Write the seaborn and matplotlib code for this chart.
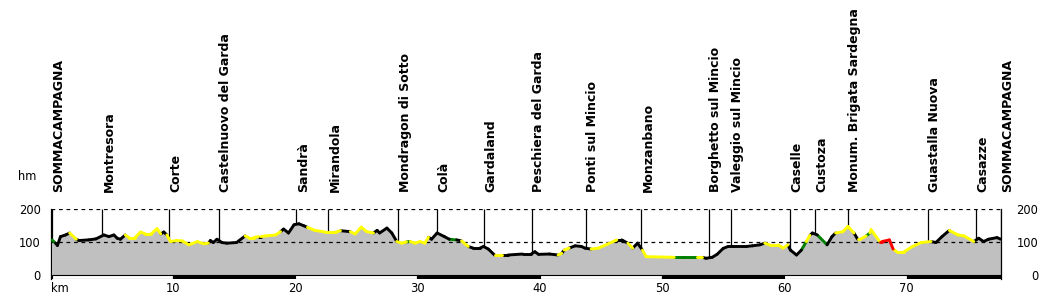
import numpy as np
import pandas as pd
import matplotlib
matplotlib.use("Agg")
import matplotlib.pyplot as plt
import seaborn as sns

# ---------------- data ----------------
km = [0.1, 0.4, 0.55, 0.8, 1.22, 1.55, 2.1, 2.3, 3.1, 3.7, 4.35, 4.76, 5.17, 5.44, 5.7,
      6.1, 6.4, 6.9, 7.35, 7.75, 8.2, 8.7, 9.0, 9.25, 9.5, 9.8, 10.3, 10.75, 11.3, 12.0,
      12.5, 12.9, 13.06, 13.3, 13.6, 14.0, 14.4, 15.2, 15.9, 16.2, 16.6, 17.0, 17.2, 17.55,
      18.4, 18.8, 19.05, 19.45, 19.9, 20.3, 20.7, 21.0, 21.6, 22.45, 23.3, 23.7, 24.5, 24.9,
      25.4, 25.85, 26.4, 26.7, 26.9, 27.5, 27.9, 28.3, 28.7, 29.1, 29.4, 29.8, 30.2, 30.6,
      30.9, 31.15, 31.6, 32.2, 32.6, 33.2, 33.6, 34.15, 34.55, 35.1, 35.4, 35.8, 36.3, 36.9,
      37.4, 38.6, 39.3, 39.6, 39.9, 40.8, 41.5, 41.8, 42.0, 42.4, 42.9, 43.4, 43.7, 44.2,
      44.8, 45.6, 46.3, 46.7, 47.2, 47.6, 48.0, 48.4, 48.7, 51.0, 51.8, 52.9, 53.3, 53.6,
      54.1, 54.5, 55.0, 55.4, 55.8, 56.9, 57.4, 58.0, 58.4, 58.8, 59.5, 59.9, 60.3, 60.5,
      61.0, 61.4, 61.8, 62.1, 62.3, 62.7, 63.5, 63.9, 64.2, 64.8, 65.2, 65.7, 66.0, 66.2,
      66.7, 67.0, 67.1, 67.8, 68.0, 68.6, 68.9, 69.2, 69.8, 70.5, 71.2, 72.0, 72.4, 72.9,
      73.5, 74.2, 74.7, 75.5, 75.9, 76.3, 76.7, 77.4, 77.7]
elev = [106, 96, 89, 116, 121, 127, 108, 104, 106, 109, 121, 116, 121, 111, 108,
        121, 113, 113, 130, 124, 124, 140, 124, 130, 121, 101, 104, 103, 91, 101,
        94, 96, 104, 98, 108, 98, 96, 98, 118, 113, 113, 116, 116, 118,
        121, 131, 139, 127, 152, 155, 149, 144, 135, 130, 130, 134, 131, 124,
        145, 131, 127, 135, 127, 142, 127, 101, 96, 100, 101, 96, 101, 96,
        114, 108, 127, 116, 108, 106, 103, 86, 81, 81, 86, 78, 60, 60,
        60, 63, 63, 70, 62, 63, 60, 65, 75, 81, 88, 86, 81, 78,
        81, 94, 106, 106, 96, 81, 96, 75, 55, 53, 53, 53, 53, 50,
        53, 62, 80, 86, 86, 86, 88, 91, 96, 91, 91, 81, 91, 75,
        60, 75, 101, 120, 127, 121, 91, 116, 127, 131, 147, 127, 108, 108,
        118, 127, 137, 101, 101, 106, 78, 70, 70, 86, 98, 101, 98, 116,
        135, 121, 118, 101, 111, 101, 108, 113, 108]
# gradient class of the segment starting at each point
slope = ['g', 'k', 'k', 'k', 'k', 'y', 'k', 'k', 'k', 'k', 'k', 'k', 'k', 'k', 'k',
         'y', 'y', 'y', 'y', 'y', 'y', 'y', 'k', 'k', 'y', 'y', 'y', 'y', 'y', 'y',
         'y', 'k', 'k', 'k', 'k', 'k', 'k', 'k', 'y', 'y', 'y', 'k', 'y', 'y',
         'y', 'k', 'k', 'k', 'k', 'k', 'k', 'y', 'y', 'y', 'y', 'k', 'y', 'y',
         'y', 'y', 'k', 'k', 'k', 'k', 'k', 'y', 'y', 'g', 'y', 'y', 'y', 'y',
         'k', 'k', 'k', 'k', 'g', 'k', 'y', 'k', 'k', 'k', 'k', 'k', 'y', 'k',
         'k', 'k', 'k', 'k', 'k', 'k', 'y', 'k', 'y', 'k', 'k', 'k', 'k', 'y',
         'y', 'y', 'k', 'k', 'y', 'k', 'k', 'y', 'y', 'g', 'g', 'y', 'k', 'k',
         'k', 'k', 'k', 'k', 'k', 'k', 'k', 'k', 'y', 'y', 'y', 'y', 'k', 'k',
         'k', 'g', 'y', 'k', 'k', 'g', 'k', 'k', 'y', 'y', 'y', 'k', 'y', 'y',
         'g', 'y', 'y', 'r', 'r', 'r', 'y', 'y', 'y', 'y', 'y', 'k', 'k', 'k',
         'y', 'y', 'y', 'k', 'k', 'k', 'k', 'k', 'k']

places = ["SOMMACAMPAGNA", "Montresora", "Corte", "Castelnuovo del Garda", "Sandrà",
          "Mirandola", "Mondragon di Sotto", "Colà", "Gardaland", "Peschiera del Garda",
          "Ponti sul Mincio", "Monzanbano", "Borghetto sul Mincio", "Valeggio sul Mincio",
          "Caselle", "Custoza", "Monum. Brigata Sardegna", "Guastalla Nuova", "Casazze",
          "SOMMACAMPAGNA"]
place_km = [0.1, 4.23, 9.70, 13.73, 20.1, 22.71, 28.43, 31.58, 35.41, 39.33, 43.77,
            48.31, 53.81, 55.63, 60.45, 62.51, 65.2, 71.74, 75.66, 77.7]

km_ticks = [0, 10, 20, 30, 40, 50, 60, 70]
km_tick_labels = ["km", "10", "20", "30", "40", "50", "60", "70"]
hm_ticks = [0, 100, 200]

# ---------------- plot ----------------
sns.set_theme(style="white")
plt.rcParams["font.family"] = ["DejaVu Sans"]

fig = plt.figure(figsize=(10.5, 3.01), dpi=100)
ax = fig.add_axes([50.7 / 1050, 22 / 301, 950 / 1050, 70 / 301])

x0, x1 = km[0], km[-1]
ax.set_xlim(x0, x1)
ax.set_ylim(-13, 200)

# fill under profile
ax.fill_between(km, elev, 0, color="#c0c0c0", lw=0, zorder=1)

# dashed reference lines
for h in [100, 200]:
    ax.axhline(h, color="black", lw=0.9, ls=(0, (3, 3)), zorder=2)

# place lines
place_elev = np.interp(place_km, km, elev)
for pk, pe, name in zip(place_km, place_elev, places):
    ax.plot([pk, pk], [pe, 200], color="black", lw=0.9, zorder=2, solid_capstyle="butt")
    ax.annotate(name, xy=(pk, 1), xycoords=("data", "axes fraction"),
                xytext=(0.3, 12), textcoords="offset points", rotation=90,
                ha="left", va="bottom", fontsize=9, fontweight="bold",
                color="black", annotation_clip=False)

# profile segments via seaborn
rows = []
for i in range(len(km) - 1):
    for j in (i, i + 1):
        rows.append({"km": km[j], "elev": elev[j], "seg": i, "cls": slope[i]})
df = pd.DataFrame(rows)
palette = {"k": "black", "y": "#ffff00", "g": "#008000", "r": "#ff0000"}
sns.lineplot(data=df, x="km", y="elev", units="seg", hue="cls", palette=palette,
             estimator=None, sort=False, legend=False, lw=2.1, ax=ax, zorder=3,
             solid_capstyle="round")

# km bar
bar_starts = [0, 10, 20, 30, 40, 50, 60, 70]
bar_colors = ["white", "black"] * 4
bar_ends = bar_starts[1:] + [x1]
ax.bar([max(s, x0) for s in bar_starts],
       [-13] * len(bar_starts),
       width=[e - max(s, x0) for s, e in zip(bar_starts, bar_ends)],
       bottom=0, align="edge", color=bar_colors, edgecolor="black", lw=0.8, zorder=4)

# spines
for s in ["top", "bottom"]:
    ax.spines[s].set_visible(False)
for s in ["left", "right"]:
    ax.spines[s].set_color("black")
    ax.spines[s].set_linewidth(0.9)
    ax.spines[s].set_bounds(-13, 200)

ax.set_xlabel("")
ax.set_ylabel("")
ax.set_xticks(km_ticks)
ax.set_xticklabels(km_tick_labels)
ax.get_xticklabels()[0].set_ha("left")
ax.tick_params(axis="x", length=0, pad=2, labelsize=8.3, colors="black")
ax.set_yticks(hm_ticks)
ax.set_yticklabels([str(t) for t in hm_ticks])
ax.tick_params(axis="y", length=0, pad=7, labelsize=8.3, colors="black")
ax.grid(False)

ax2 = ax.twinx()
ax2.set_ylim(ax.get_ylim())
ax2.set_yticks(hm_ticks)
ax2.set_yticklabels([str(t) for t in hm_ticks])
ax2.tick_params(axis="y", length=0, pad=27, labelsize=8.3, colors="black")
for lab in ax2.get_yticklabels():
    lab.set_ha("right")
for s in ax2.spines.values():
    s.set_visible(False)
ax2.grid(False)

fig.text(18 / 1050, 1 - 176 / 301, "hm", fontsize=8.3, ha="left", va="center", color="black")

fig.savefig("out.png", dpi=100)
